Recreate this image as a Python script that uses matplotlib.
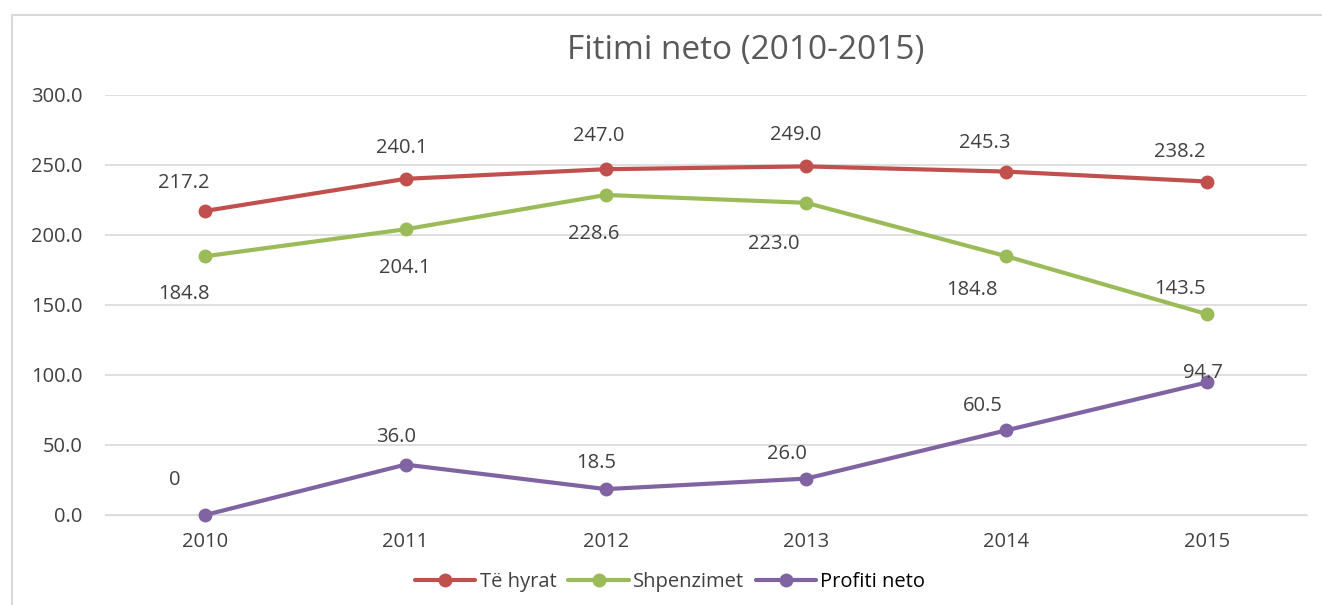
import numpy as np
import matplotlib.pyplot as plt
from matplotlib.patches import Rectangle

years = ["2010", "2011", "2012", "2013", "2014", "2015"]
te_hyrat = [217.2, 240.1, 247.0, 249.0, 245.3, 238.2]
shpenzimet = [184.8, 204.1, 228.6, 223.0, 184.8, 143.5]
profiti = [0, 36.0, 18.5, 26.0, 60.5, 94.7]
profiti_text = ["0", "36.0", "18.5", "26.0", "60.5", "94.7"]

# label offsets in pixels (dx, dy)
off_hyrat = [(-21, 28), (-4, 31), (-7, 33), (-10, 31), (-22, 29), (-27, 30)]
off_shp = [(-21, -38), (-1, -39), (-12, -39), (-32, -41), (-35, -34), (-27, 25)]
off_prof = [(-30, 35), (-9, 28), (-10, 26), (-19, 25), (-24, 24), (-4, 9)]

red, green, purple = "#C0504D", "#9BBB59", "#8064A2"
txt = "#404040"

plt.rcParams['font.family'] = ['Open Sans', 'DejaVu Sans']

fig = plt.figure(figsize=(13.22, 6.05), dpi=100)
fig.patches.append(Rectangle((12/1322, -0.01), 1.0, 1 - 15/605 + 0.01,
                             transform=fig.transFigure, fill=False,
                             edgecolor="#d9d9d9", linewidth=1.5))
ax = fig.add_axes([105/1322, 90/605, 1202/1322, 420/605])

x = np.arange(len(years))
series = [(te_hyrat, red, "Të hyrat", off_hyrat, ["%.1f" % v for v in te_hyrat]),
          (shpenzimet, green, "Shpenzimet", off_shp, ["%.1f" % v for v in shpenzimet]),
          (profiti, purple, "Profiti neto", off_prof, profiti_text)]
for vals, c, name, offs, labels in series:
    ax.plot(x, vals, color=c, lw=3, marker="o", ms=9, label=name,
            solid_capstyle="round", clip_on=False, zorder=3)
    for xi, v, o, lab in zip(x, vals, offs, labels):
        ax.annotate(lab, (xi, v), xytext=o, textcoords="offset pixels",
                    ha="center", va="center", fontsize=14.5, color=txt)

ax.set_xlim(-0.5, 5.5)
ax.set_ylim(0, 300)
ax.set_yticks(np.arange(0, 301, 50))
ax.set_yticklabels(["%.1f" % v for v in np.arange(0, 301, 50)])
ax.set_xticks(x)
ax.set_xticklabels(years)
ax.tick_params(length=0, labelsize=14.5, labelcolor=txt, pad=12)
ax.tick_params(axis="y", pad=16)
ax.grid(axis="y", color="#d9d9d9", lw=1.2)
ax.set_axisbelow(True)
for s in ax.spines.values():
    s.set_visible(False)
ax.spines["bottom"].set_visible(True)
ax.spines["bottom"].set_color("#d9d9d9")

fig.text(0.564, 1 - 50/605, "Fitimi neto (2010-2015)", ha="center", va="center",
         fontsize=24, color="#595959")

leg = fig.legend(loc="center", bbox_to_anchor=(0.507, 1 - 582/605), ncol=3,
                 frameon=False, fontsize=14.5, handlelength=3.0, columnspacing=0.6,
                 handletextpad=0.2)
for t in leg.get_texts()[:2]:
    t.set_color(txt)

fig.savefig("out.png", dpi=100)
